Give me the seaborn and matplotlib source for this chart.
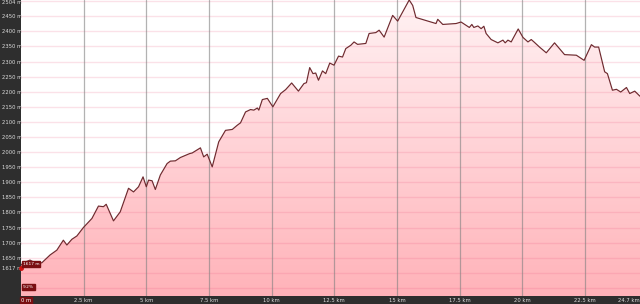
import numpy as np
import pandas as pd
import matplotlib
matplotlib.use("Agg")
import matplotlib.pyplot as plt
import seaborn as sns
from matplotlib.colors import LinearSegmentedColormap

# ---- data (distance in km, elevation in m) ----
distance_km = [0.00, 0.09, 0.36, 0.56, 0.83, 1.16, 1.43, 1.69, 1.83, 2.03, 2.23, 2.49, 2.83,
               3.09, 3.29, 3.40, 3.69, 3.96, 4.29, 4.49, 4.69, 4.87, 5.00, 5.09, 5.23, 5.36,
               5.56, 5.83, 5.96, 6.16, 6.36, 6.73, 6.83, 7.16, 7.29, 7.43, 7.63, 7.89, 8.16,
               8.43, 8.63, 8.76, 8.96, 9.16, 9.29, 9.43, 9.49, 9.63, 9.83, 10.05, 10.36, 10.56,
               10.80, 11.07, 11.29, 11.39, 11.52, 11.65, 11.76, 11.87, 12.03, 12.16, 12.32,
               12.49, 12.67, 12.83, 12.96, 13.16, 13.29, 13.43, 13.76, 13.89, 14.16, 14.29,
               14.49, 14.83, 15.03, 15.49, 15.63, 15.76, 16.56, 16.63, 16.83, 17.36, 17.56,
               17.89, 17.99, 18.07, 18.23, 18.36, 18.47, 18.56, 18.76, 19.03, 19.23, 19.32,
               19.43, 19.56, 19.63, 19.84, 20.03, 20.23, 20.36, 20.47, 20.69, 20.96, 21.29,
               21.69, 22.16, 22.47, 22.76, 22.89, 23.05, 23.29, 23.40, 23.60, 23.76, 23.93,
               24.16, 24.29, 24.49, 24.70]
elevation_m = [1625, 1633, 1642, 1633, 1633, 1659, 1675, 1708, 1692, 1711, 1722, 1750, 1780,
               1821, 1819, 1827, 1772, 1802, 1880, 1868, 1885, 1918, 1885, 1907, 1905, 1876,
               1924, 1962, 1970, 1971, 1982, 1995, 1997, 2014, 1984, 1993, 1951, 2034, 2072,
               2075, 2089, 2097, 2133, 2141, 2139, 2146, 2139, 2174, 2178, 2150, 2194, 2207,
               2229, 2202, 2227, 2230, 2280, 2260, 2262, 2238, 2269, 2260, 2295,
               2288, 2318, 2315, 2343, 2354, 2365, 2357, 2360, 2393, 2396, 2404,
               2381, 2453, 2434, 2504, 2486, 2446, 2426, 2440, 2423, 2426, 2431,
               2413, 2423, 2413, 2418, 2409, 2417, 2393, 2373, 2362, 2371, 2362,
               2371, 2365, 2376, 2408, 2380, 2365, 2373, 2365, 2348, 2329, 2362,
               2323, 2321, 2304, 2356, 2348, 2348, 2266, 2260, 2205, 2208, 2199,
               2214, 2194, 2202, 2185]

y_ticks = [1617, 1650, 1700, 1750, 1800, 1850, 1900, 1950, 2000, 2050, 2100, 2150,
           2200, 2250, 2300, 2350, 2400, 2450, 2504]
y_labels = [f"{v} m" for v in y_ticks]
x_ticks = [0, 2.5, 5, 7.5, 10, 12.5, 15, 17.5, 20, 22.5, 24.7]
x_labels = ["0 m", "2.5 km", "5 km", "7.5 km", "10 km", "12.5 km", "15 km",
            "17.5 km", "20 km", "22.5 km", "24.7 km"]
start_label = "1617 m"
grade_label = "9.2%"

df = pd.DataFrame({"km": distance_km, "elev": elevation_m})

sns.set_style("white")
plt.rcParams["font.family"] = ["DejaVu Sans"]

W, H = 640, 304
fig = plt.figure(figsize=(W / 100, H / 100), dpi=100, facecolor="#2e2e2e")
ax = fig.add_axes([21 / W, 8 / H, 619 / W, 296 / H])
ax.set_facecolor("white")

ymin, ymax = 1523, 2504
xmin, xmax = 0, 24.7
ax.set_xlim(xmin, xmax)
ax.set_ylim(ymin, ymax)

# gradient fill under profile
poly = ax.fill_between(df["km"], df["elev"], ymin, color="none", lw=0, zorder=1)
cmap = LinearSegmentedColormap.from_list("pk", [(1.0, 0.70, 0.725), (1.0, 0.95, 0.955)])
grad = np.linspace(0, 1, 256).reshape(-1, 1)
img = ax.imshow(grad, cmap=cmap, aspect="auto", origin="lower",
                extent=[xmin, xmax, ymin, ymax], zorder=1)
img.set_clip_path(poly.get_paths()[0], transform=ax.transData)

# grid lines
for v in range(1550, 2501, 50):
    ax.axhline(v, color=(0.93, 0.35, 0.5, 0.18), lw=1.0, zorder=2)
for v in x_ticks[1:-1]:
    ax.axvline(v, color=(0.5, 0.5, 0.5, 0.6), lw=0.9, zorder=2)

sns.lineplot(data=df, x="km", y="elev", ax=ax, color="#6e2a2f", lw=0.85, zorder=3)

ax.set_xlabel("")
ax.set_ylabel("")
for s in ax.spines.values():
    s.set_visible(False)

ax.set_yticks(y_ticks)
ax.set_yticklabels(y_labels)
ax.tick_params(axis="y", length=0, pad=13.5, labelsize=3.8, labelcolor="#dddddd")
for t in ax.get_yticklabels():
    t.set_horizontalalignment("left")
ax.get_yticklabels()[-1].set_verticalalignment("top")

ax.set_xticks(x_ticks)
ax.set_xticklabels(x_labels)
ax.tick_params(axis="x", length=0, pad=1.2, labelsize=3.8, labelcolor="#dddddd")
xl = ax.get_xticklabels()
xl[0].set_horizontalalignment("left")
xl[0].set_bbox(dict(boxstyle="square,pad=0.2", fc="#7a0f12", ec="#7a0f12"))
xl[0].set_color("white")
xl[-1].set_horizontalalignment("right")

# markers/annotations at start
ax.plot([0], [1617], marker="o", ms=2.5, color="#d01010", clip_on=False, zorder=5)
ax.text(0.08, 1630, start_label, fontsize=3.2, color="white", ha="left", va="center",
        bbox=dict(boxstyle="square,pad=0.2", fc="#7a0f12", ec="#7a0f12"), zorder=6)
ax.text(0.08, 1552, grade_label, fontsize=3.2, color="white", ha="left", va="center",
        bbox=dict(boxstyle="square,pad=0.2", fc="#7a0f12", ec="#7a0f12"), zorder=6)

fig.savefig("out.png", dpi=100, facecolor=fig.get_facecolor())
